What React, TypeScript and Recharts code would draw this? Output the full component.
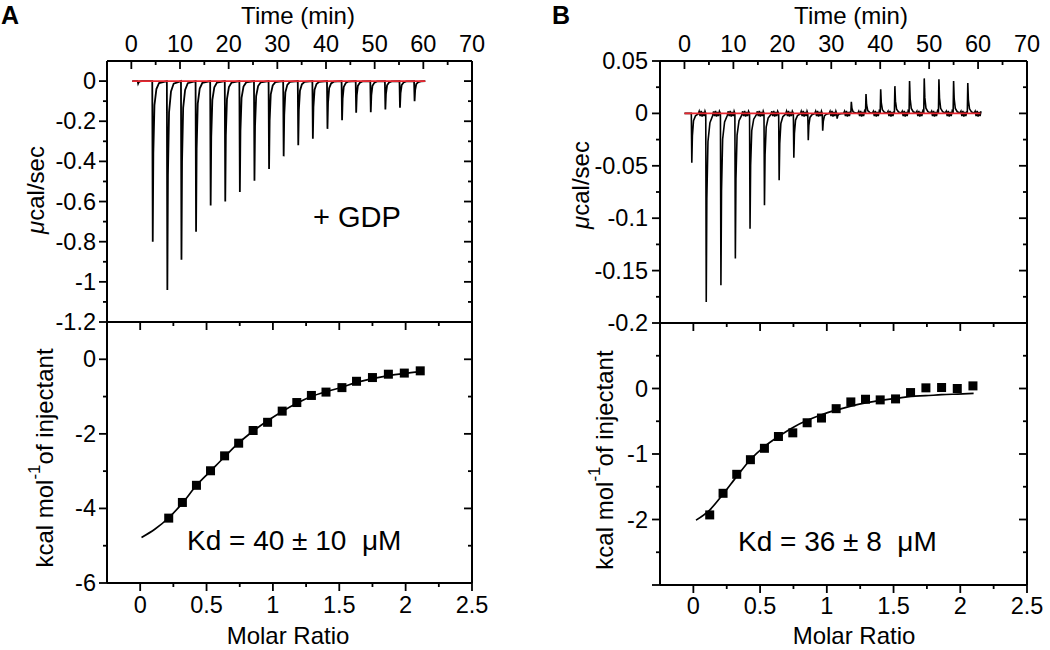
import { ComposedChart, Line, Scatter, XAxis, YAxis } from "recharts"

const FONT = '"Liberation Sans", Arial, Helvetica, sans-serif'

// ---- axis ticks ----
const timeMajor = [0, 10, 20, 30, 40, 50, 60, 70]
const timeMinor = [5, 15, 25, 35, 45, 55, 65]
const timeLabels = ["0", "10", "20", "30", "40", "50", "60", "70"]

const ratioMajor = [0, 0.5, 1, 1.5, 2, 2.5]
const ratioMinor = [0.25, 0.75, 1.25, 1.75, 2.25]
const ratioLabels = ["0", "0.5", "1", "1.5", "2", "2.5"]

const rawAMajor = [0, -0.2, -0.4, -0.6, -0.8, -1, -1.2]
const rawAMinor = [-0.1, -0.3, -0.5, -0.7, -0.9, -1.1]
const rawALabels = ["0", "-0.2", "-0.4", "-0.6", "-0.8", "-1", "-1.2"]

const heatAMajor = [0, -2, -4, -6]
const heatAMinor = [-1, -3, -5]
const heatALabels = ["0", "-2", "-4", "-6"]

const rawBMajor = [0.05, 0, -0.05, -0.1, -0.15, -0.2]
const rawBMinor = [0.025, -0.025, -0.075, -0.125, -0.175]
const rawBLabels = ["0.05", "0", "-0.05", "-0.1", "-0.15", "-0.2"]

const heatBMajor = [0, -1, -2, -3]
const heatBMinor = [0.5, -0.5, -1.5, -2.5]
const heatBLabels = ["0", "-1", "-2", ""]

// ---- raw thermograms (injection time in min, peak in µcal/sec) ----
const injTimesA = [1.3, 4.3, 7.3, 10.2, 13.2, 16.2, 19.2, 22.2, 25.2, 28.2, 31.2, 34.2, 37.2, 40.2, 43.2, 46.1, 49.1, 52.1, 55.1, 58.1]
const peaksA = [-0.012, -0.8, -1.04, -0.89, -0.75, -0.62, -0.6, -0.553, -0.497, -0.438, -0.375, -0.32, -0.287, -0.238, -0.195, -0.158, -0.155, -0.142, -0.133, -0.1]

const injTimesB = [1.4, 4.35, 7.35, 10.3, 13.3, 16.25, 19.25, 22.25, 25.2, 28.15, 31.1, 34.0, 37.0, 40.0, 42.9, 45.9, 48.9, 51.9, 54.9, 57.8]
const peaksB = [-0.047, -0.18, -0.164, -0.1385, -0.11, -0.0876, -0.0637, -0.0424, -0.0255, -0.0166, -0.005, 0.011, 0.0185, 0.023, 0.026, 0.031, 0.0334, 0.0325, 0.031, 0.029]

// shape of one injection peak: [minutes after injection, fraction of peak]
const spikeShape = [[0, 0], [0.1, 1], [0.22, 0.45], [0.45, 0.15], [0.85, 0.05], [1.4, 0.012]]
// baseline wiggle on the flat part of panel B: [minutes after injection, µcal/sec]
const wiggleB = [[1.6, 0.002], [1.8, -0.0025], [2.0, 0.0025], [2.2, -0.003], [2.4, 0.0015], [2.6, -0.0025], [2.8, 0.002]]

// ---- integrated heats ----
const ratioA = [0.215, 0.318, 0.424, 0.53, 0.636, 0.742, 0.851, 0.96, 1.07, 1.18, 1.29, 1.4, 1.52, 1.63, 1.75, 1.87, 1.99, 2.11]
const heatA = [-4.26, -3.84, -3.38, -2.99, -2.59, -2.25, -1.91, -1.69, -1.39, -1.16, -0.97, -0.88, -0.76, -0.59, -0.49, -0.4, -0.37, -0.31]
const fitRatioA = [0.01, 0.11, 0.215, 0.32, 0.42, 0.53, 0.64, 0.74, 0.85, 0.96, 1.07, 1.18, 1.29, 1.4, 1.52, 1.63, 1.75, 1.87, 1.99, 2.11]
const fitHeatA = [-4.78, -4.56, -4.25, -3.85, -3.4, -3.0, -2.6, -2.25, -1.93, -1.65, -1.4, -1.18, -1.0, -0.87, -0.75, -0.62, -0.52, -0.44, -0.38, -0.33]

const ratioB = [0.1225, 0.2225, 0.325, 0.4275, 0.5325, 0.6375, 0.745, 0.8525, 0.96, 1.07, 1.18, 1.29, 1.4, 1.515, 1.6275, 1.7425, 1.86, 1.9775, 2.095]
const heatB = [-1.93, -1.6, -1.31, -1.087, -0.913, -0.733, -0.677, -0.523, -0.451, -0.308, -0.205, -0.164, -0.174, -0.159, -0.062, 0.01, 0.015, 0, 0.04]
const fitRatioB = [0.02, 0.12, 0.22, 0.33, 0.43, 0.53, 0.64, 0.75, 0.85, 0.96, 1.07, 1.18, 1.29, 1.4, 1.52, 1.63, 1.74, 1.86, 1.98, 2.1]
const fitHeatB = [-2.01, -1.86, -1.62, -1.33, -1.08, -0.89, -0.73, -0.59, -0.49, -0.4, -0.33, -0.27, -0.22, -0.18, -0.15, -0.12, -0.11, -0.095, -0.085, -0.075]

function thermogram(times: number[], peaks: number[], start: number, end: number, wiggle: number[][]) {
  const pts = [{ x: start, y: 0 }]
  times.forEach((t, i) => {
    spikeShape.forEach(([dt, f]) => pts.push({ x: t + dt, y: peaks[i] * f }))
    wiggle.forEach(([dt, w]) => pts.push({ x: t + dt, y: w }))
  })
  pts.push({ x: end, y: 0 })
  return pts
}

const pairs = (xs: number[], ys: number[]) => xs.map((x, i) => ({ x, y: ys[i] }))

const thermoA = thermogram(injTimesA, peaksA, 0.2, 60.4, [])
const thermoB = thermogram(injTimesB, peaksB, 0, 60.5, wiggleB)
const baseA = [{ x: 0.2, y: 0 }, { x: 60.4, y: 0 }]
const baseB = [{ x: 0, y: 0 }, { x: 60.5, y: 0 }]

type Spec = { domain: [number, number]; major: number[]; minor: number[]; labels: string[] }
type Box = { x0: number; y0: number; x1: number; y1: number }

const PAD = { l: 110, t: 62, r: 30, b: 48 }
const AXIS = { stroke: "#000", strokeWidth: 2 }

function xTick(edge: number, dir: number, spec: Spec, labelDy: number | null) {
  return (p: any) => {
    const i = spec.major.indexOf(p.payload.value)
    const len = i >= 0 ? 8 : 4
    return (
      <g>
        <line x1={p.x} x2={p.x} y1={edge} y2={edge + dir * len} stroke="#000" strokeWidth={1.8} />
        {labelDy !== null && i >= 0 && (
          <text x={p.x} y={edge + labelDy} textAnchor="middle" dominantBaseline="central"
            fontFamily={FONT} fontSize={23.5} fill="#000">
            {spec.labels[i]}
          </text>
        )}
      </g>
    )
  }
}

function yTick(edge: number, spec: Spec, labelled: boolean, gap: number) {
  return (p: any) => {
    const i = spec.major.indexOf(p.payload.value)
    const len = i >= 0 ? 8 : 4
    return (
      <g>
        <line x1={edge} x2={edge - len} y1={p.y} y2={p.y} stroke="#000" strokeWidth={1.8} />
        {labelled && i >= 0 && (
          <text x={edge - gap} y={p.y} textAnchor="end" dominantBaseline="central"
            fontFamily={FONT} fontSize={23.5} fill="#000">
            {spec.labels[i]}
          </text>
        )}
      </g>
    )
  }
}

function Panel(props: { box: Box; xs: Spec; xSide: "top" | "bottom"; xDy: number; ys: Spec; yGap: number; children: any }) {
  const { box, xs, xSide, xDy, ys, yGap } = props
  const w = box.x1 - box.x0
  const h = box.y1 - box.y0
  const top = PAD.t
  const bottom = PAD.t + h
  const left = PAD.l
  const right = PAD.l + w
  const xt = [...xs.major, ...xs.minor].sort((a, b) => a - b)
  const yt = [...ys.major, ...ys.minor].sort((a, b) => a - b)
  return (
    <div style={{ position: "absolute", left: box.x0 - PAD.l, top: box.y0 - PAD.t }}>
      <ComposedChart width={w + PAD.l + PAD.r} height={h + PAD.t + PAD.b} margin={{ top: 0, right: 0, bottom: 0, left: 0 }}>
        <XAxis xAxisId="t" orientation="top" height={PAD.t} type="number" dataKey="x" domain={xs.domain}
          allowDataOverflow ticks={xt} interval={0} tickLine={false} axisLine={AXIS}
          tick={xTick(top, 1, xs, xSide === "top" ? xDy : null)} />
        <XAxis xAxisId="b" orientation="bottom" height={PAD.b} type="number" dataKey="x" domain={xs.domain}
          allowDataOverflow ticks={xt} interval={0} tickLine={false} axisLine={AXIS}
          tick={xSide === "bottom" ? xTick(bottom, 1, xs, xDy) : false} />
        <YAxis yAxisId="l" orientation="left" width={PAD.l} type="number" domain={ys.domain}
          allowDataOverflow ticks={yt} interval={0} tickLine={false} axisLine={AXIS}
          tick={yTick(left, ys, true, yGap)} />
        <YAxis yAxisId="r" orientation="right" width={PAD.r} type="number" domain={ys.domain}
          allowDataOverflow ticks={yt} interval={0} tickLine={false} axisLine={AXIS}
          tick={yTick(right, ys, false, 0)} />
        {props.children}
      </ComposedChart>
    </div>
  )
}

const Square = (p: any) => <rect x={p.cx - 4.5} y={p.cy - 4.5} width={9} height={9} fill="#000" />

const timeSpec: Spec = { domain: [-5, 70], major: timeMajor, minor: timeMinor, labels: timeLabels }
const ratioSpec: Spec = { domain: [-0.25, 2.5], major: ratioMajor, minor: ratioMinor, labels: ratioLabels }

const txt = { fontFamily: FONT, fill: "#000" }

export default function App() {
  return (
    <div style={{ position: "absolute", left: 0, top: 0, width: 1050, height: 650, background: "#fff" }}>
      <Panel box={{ x0: 107, y0: 61, x1: 472, y1: 322 }} xs={timeSpec} xSide="top" xDy={-17}
        ys={{ domain: [-1.2, 0.1], major: rawAMajor, minor: rawAMinor, labels: rawALabels }} yGap={11}>
        <Line data={thermoA} dataKey="y" xAxisId="t" yAxisId="l" dot={false} stroke="#000" strokeWidth={1.8} isAnimationActive={false} />
        <Line data={baseA} dataKey="y" xAxisId="t" yAxisId="l" dot={false} stroke="#e8262f" strokeWidth={1.8} isAnimationActive={false} />
      </Panel>
      <Panel box={{ x0: 107, y0: 322, x1: 472, y1: 583 }} xs={ratioSpec} xSide="bottom" xDy={22}
        ys={{ domain: [-6, 1], major: heatAMajor, minor: heatAMinor, labels: heatALabels }} yGap={11}>
        <Line data={pairs(fitRatioA, fitHeatA)} dataKey="y" xAxisId="b" yAxisId="l" type="monotone" dot={false} stroke="#000" strokeWidth={1.7} isAnimationActive={false} />
        <Scatter data={pairs(ratioA, heatA)} dataKey="y" xAxisId="b" yAxisId="l" shape={Square} isAnimationActive={false} />
      </Panel>
      <Panel box={{ x0: 660, y0: 61, x1: 1027, y1: 323 }} xs={timeSpec} xSide="top" xDy={-17}
        ys={{ domain: [-0.2, 0.05], major: rawBMajor, minor: rawBMinor, labels: rawBLabels }} yGap={12}>
        <Line data={thermoB} dataKey="y" xAxisId="t" yAxisId="l" dot={false} stroke="#000" strokeWidth={1.6} isAnimationActive={false} />
        <Line data={baseB} dataKey="y" xAxisId="t" yAxisId="l" dot={false} stroke="#e8262f" strokeWidth={1.8} isAnimationActive={false} />
      </Panel>
      <Panel box={{ x0: 660, y0: 323, x1: 1027, y1: 585 }} xs={ratioSpec} xSide="bottom" xDy={21}
        ys={{ domain: [-3, 1], major: heatBMajor, minor: heatBMinor, labels: heatBLabels }} yGap={12}>
        <Line data={pairs(fitRatioB, fitHeatB)} dataKey="y" xAxisId="b" yAxisId="l" type="monotone" dot={false} stroke="#000" strokeWidth={1.7} isAnimationActive={false} />
        <Scatter data={pairs(ratioB, heatB)} dataKey="y" xAxisId="b" yAxisId="l" shape={Square} isAnimationActive={false} />
      </Panel>

      <svg width={1050} height={650} style={{ position: "absolute", left: 0, top: 0, pointerEvents: "none" }}>
        <text x={1} y={24} fontSize={25} fontWeight="bold" style={txt}>A</text>
        <text x={552} y={24} fontSize={25} fontWeight="bold" style={txt}>B</text>

        <text x={298} y={15} fontSize={24} textAnchor="middle" dominantBaseline="central" style={txt}>Time (min)</text>
        <text x={851} y={15} fontSize={24} textAnchor="middle" dominantBaseline="central" style={txt}>Time (min)</text>

        <text x={35} y={190} fontSize={24} textAnchor="middle" dominantBaseline="central" transform="rotate(-90 35 190)" style={txt}>
          <tspan fontStyle="italic">μ</tspan>cal/sec
        </text>
        <text x={580} y={185} fontSize={24} textAnchor="middle" dominantBaseline="central" transform="rotate(-90 580 185)" style={txt}>
          <tspan fontStyle="italic">μ</tspan>cal/sec
        </text>

        <text x={44} y={458} fontSize={24} textAnchor="middle" dominantBaseline="central" transform="rotate(-90 44 458)" style={txt}>
          kcal mol<tspan dy={-10} fontSize={17}>-1</tspan><tspan dy={10}>of injectant</tspan>
        </text>
        <text x={604} y={460} fontSize={24} textAnchor="middle" dominantBaseline="central" transform="rotate(-90 604 460)" style={txt}>
          kcal mol<tspan dy={-10} fontSize={17}>-1</tspan><tspan dy={10}>of injectant</tspan>
        </text>

        <text x={288} y={635} fontSize={24} textAnchor="middle" dominantBaseline="central" style={txt}>Molar Ratio</text>
        <text x={854} y={635} fontSize={24} textAnchor="middle" dominantBaseline="central" style={txt}>Molar Ratio</text>

        <text x={313} y={217} fontSize={29} dominantBaseline="central" style={txt}>+ GDP</text>
        <text x={187} y={540} fontSize={28} dominantBaseline="central" style={{ ...txt, whiteSpace: "pre" }}>Kd = 40 ± 10  μM</text>
        <text x={738} y={541} fontSize={28} dominantBaseline="central" style={{ ...txt, whiteSpace: "pre" }}>Kd = 36 ± 8  μM</text>
      </svg>
    </div>
  )
}
